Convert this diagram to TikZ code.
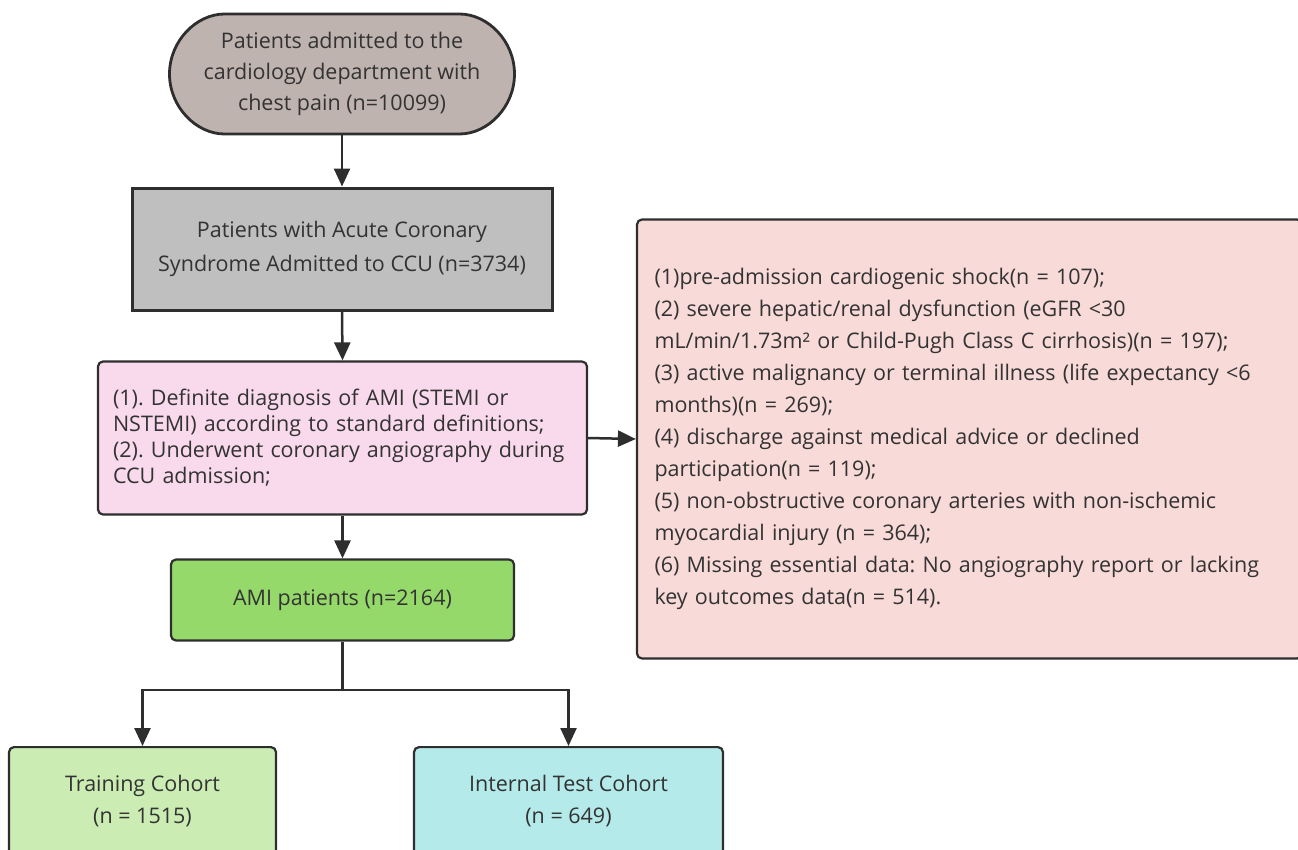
\documentclass[tikz,border=0pt]{standalone}
\usepackage{fontspec}
\setmainfont{Open Sans}
\usetikzlibrary{arrows.meta,shapes.misc}
\definecolor{txt}{HTML}{333333}
\definecolor{bord}{HTML}{2E2E2E}
\definecolor{cTop}{HTML}{BFB3B0}
\definecolor{cGray}{HTML}{BFBFBF}
\definecolor{cPink}{HTML}{F9DAEC}
\definecolor{cGreen}{HTML}{95D96A}
\definecolor{cLGreen}{HTML}{CBEDB3}
\definecolor{cCyan}{HTML}{B5EAEA}
\definecolor{cSalmon}{HTML}{F8DAD8}
\tikzset{
  box/.style={draw=bord, line width=2.2pt, rounded corners=5pt, text=txt, inner sep=0pt, font=\fontsize{21.5}{26}\selectfont},
  arr/.style={draw=bord, line width=2.5pt, -{Triangle[length=18pt,width=16pt]}},
  ln/.style={draw=bord, line width=2.5pt},
  lbl/.style={text=txt, align=center, font=\fontsize{21.5}{32}\selectfont},
}
\frenchspacing
\begin{document}
\begin{tikzpicture}[x=1pt,y=-1pt]
\useasboundingbox (0,0) rectangle (1298,849);
\clip (0,0) rectangle (1298,849);
\node[box, rounded rectangle, fill=cTop, line width=2.8pt, minimum width=345pt, minimum height=120pt, align=center, font=\fontsize{21.5}{31}\selectfont] (start) at (342,74)
  {Patients admitted to the\\cardiology department with\\chest pain (n=10099)};
\node[box, rounded corners=0pt, fill=cGray, line width=3pt, minimum width=420pt, minimum height=122pt, align=center, font=\fontsize{21.5}{34}\selectfont] (acs) at (342,249)
  {Patients with Acute Coronary\\Syndrome Admitted to CCU (n=3734)};
\node[box, fill=cPink, minimum width=489pt, minimum height=153pt, text width=459pt, align=left] (crit) at (342.5,438)
  {(1). Definite diagnosis of AMI (STEMI or\\NSTEMI) according to standard definitions;\\(2). Underwent coronary angiography during\\CCU admission;};
\node[box, fill=cGreen, minimum width=343pt, minimum height=81pt, align=center] (ami) at (342.5,600)
  {AMI patients (n=2164)};
\node[box, fill=cLGreen, minimum width=267pt, minimum height=130pt, anchor=north] (train) at (142.5,746) {};
\node[lbl] (trainlbl) at (142.5,801) {Training Cohort\\(n = 1515)};
\node[box, fill=cCyan, minimum width=309pt, minimum height=130pt, anchor=north] (test) at (568.5,746) {};
\node[lbl] (testlbl) at (568.5,801) {Internal Test Cohort\\(n = 649)};
\node[box, fill=cSalmon, minimum width=665pt, minimum height=439pt, text width=630pt, align=left, font=\fontsize{21.5}{32}\selectfont] (excl) at (969.5,439)
  {(1)pre-admission cardiogenic shock(n = 107);\\
   (2) severe hepatic/renal dysfunction (eGFR <30\\
   mL/min/1.73m² or Child-Pugh Class C cirrhosis)(n = 197);\\
   (3) active malignancy or terminal illness (life expectancy <6\\
   months)(n = 269);\\
   (4) discharge against medical advice or declined\\
   participation(n = 119);\\
   (5) non-obstructive coronary arteries with non-ischemic\\
   myocardial injury (n = 364);\\
   (6) Missing essential data: No angiography report or lacking\\
   key outcomes data(n = 514).};
\draw[arr] (start.south) -- (acs.north);
\draw[arr] (acs.south) -- (crit.north);
\draw[arr] (crit.south) -- (ami.north);
\draw[arr] (crit.east) -- (excl.west);
\coordinate (split) at (342.5,690);
\draw[ln] (ami.south) -- (split);
\draw[arr] (split) -| (train.north);
\draw[arr] (split) -| (test.north);
\end{tikzpicture}
\end{document}
